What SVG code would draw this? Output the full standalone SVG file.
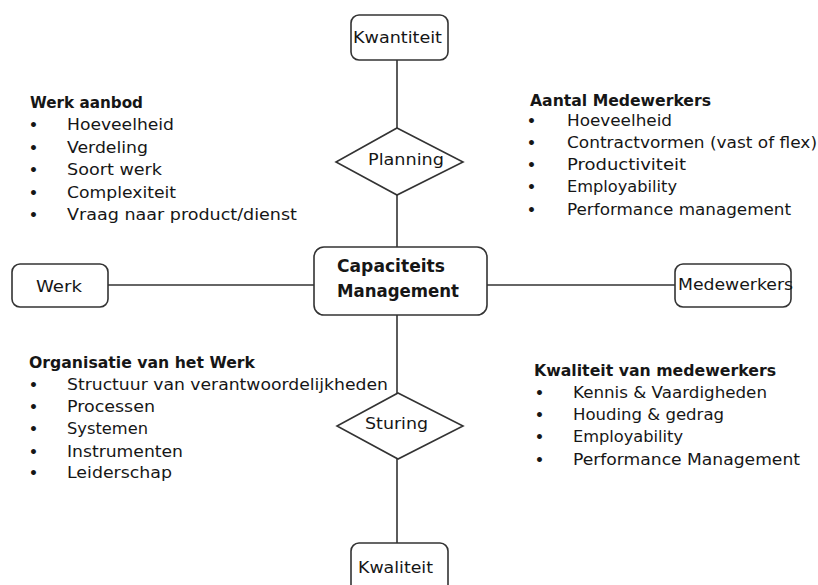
<svg xmlns="http://www.w3.org/2000/svg" width="818" height="585" viewBox="0 0 818 585">
<style>
.box{fill:#fff;stroke:#333;stroke-width:1.6}
.ln{stroke:#333;stroke-width:1.6;fill:none}
text{font-family:"DejaVu Sans","Open Sans",sans-serif;fill:#161616;font-size:16px}
.h{font-weight:bold;font-size:15px}
.n{font-size:16px}
.big{font-size:18px;font-weight:bold}
.b{font-weight:bold;font-size:14px}
</style>
<rect width="818" height="585" fill="#fff"/>
<g id="connectors">
<line class="ln" x1="397" y1="60" x2="397" y2="128"/>
<line class="ln" x1="397" y1="195" x2="397" y2="247"/>
<line class="ln" x1="397" y1="315" x2="397" y2="393"/>
<line class="ln" x1="397" y1="459" x2="397" y2="543"/>
<line class="ln" x1="108" y1="285" x2="314" y2="285"/>
<line class="ln" x1="487" y1="285" x2="675" y2="285"/>
</g>
<g id="kwantiteit">
<rect class="box" x="351" y="15" width="97" height="45" rx="8"/>
<text class="n" x="353" y="43" textLength="89" lengthAdjust="spacingAndGlyphs">Kwantiteit</text>
</g>
<g id="planning">
<polygon class="box" points="397,128 463,162 397,195 336,162"/>
<text class="n" x="368" y="165" textLength="76" lengthAdjust="spacingAndGlyphs">Planning</text>
</g>
<g id="capaciteits">
<rect class="box" x="314" y="247" width="173" height="68" rx="10"/>
<text class="big" x="337" y="272" textLength="108" lengthAdjust="spacingAndGlyphs">Capaciteits</text>
<text class="big" x="337" y="297" textLength="122" lengthAdjust="spacingAndGlyphs">Management</text>
</g>
<g id="werk">
<rect class="box" x="12" y="264" width="96" height="43" rx="8"/>
<text class="n" x="36" y="292" textLength="46" lengthAdjust="spacingAndGlyphs">Werk</text>
</g>
<g id="medewerkers">
<rect class="box" x="675" y="264" width="116" height="43" rx="8"/>
<text class="n" x="678" y="290" textLength="115" lengthAdjust="spacingAndGlyphs">Medewerkers</text>
</g>
<g id="sturing">
<polygon class="box" points="398,393 463,426 398,459 337,426"/>
<text class="n" x="365" y="429" textLength="63" lengthAdjust="spacingAndGlyphs">Sturing</text>
</g>
<g id="kwaliteit">
<rect class="box" x="351" y="543" width="97" height="52" rx="8"/>
<text class="n" x="358" y="573" textLength="75" lengthAdjust="spacingAndGlyphs">Kwaliteit</text>
</g>
<g id="werk-aanbod">
<text class="h" x="30" y="108" textLength="113" lengthAdjust="spacingAndGlyphs">Werk aanbod</text>
<text class="b" x="29" y="130">•</text><text x="67" y="130" textLength="107" lengthAdjust="spacingAndGlyphs">Hoeveelheid</text>
<text class="b" x="29" y="153">•</text><text x="67" y="153" textLength="81" lengthAdjust="spacingAndGlyphs">Verdeling</text>
<text class="b" x="29" y="175">•</text><text x="67" y="175" textLength="95" lengthAdjust="spacingAndGlyphs">Soort werk</text>
<text class="b" x="29" y="198">•</text><text x="67" y="198" textLength="109" lengthAdjust="spacingAndGlyphs">Complexiteit</text>
<text class="b" x="29" y="220">•</text><text x="67" y="220" textLength="230" lengthAdjust="spacingAndGlyphs">Vraag naar product/dienst</text>
</g>
<g id="aantal-medewerkers">
<text class="h" x="530" y="106" textLength="181" lengthAdjust="spacingAndGlyphs">Aantal Medewerkers</text>
<text class="b" x="527" y="126">•</text><text x="567" y="126" textLength="105" lengthAdjust="spacingAndGlyphs">Hoeveelheid</text>
<text class="b" x="527" y="148">•</text><text x="567" y="148" textLength="250" lengthAdjust="spacingAndGlyphs">Contractvormen (vast of flex)</text>
<text class="b" x="527" y="170">•</text><text x="567" y="170" textLength="119" lengthAdjust="spacingAndGlyphs">Productiviteit</text>
<text class="b" x="527" y="192">•</text><text x="567" y="192" textLength="110" lengthAdjust="spacingAndGlyphs">Employability</text>
<text class="b" x="527" y="215">•</text><text x="567" y="215" textLength="224" lengthAdjust="spacingAndGlyphs">Performance management</text>
</g>
<g id="organisatie">
<text class="h" x="29" y="368" textLength="226" lengthAdjust="spacingAndGlyphs">Organisatie van het Werk</text>
<text class="b" x="29" y="390">•</text><text x="67" y="390" textLength="321" lengthAdjust="spacingAndGlyphs">Structuur van verantwoordelijkheden</text>
<text class="b" x="29" y="412">•</text><text x="67" y="412" textLength="88" lengthAdjust="spacingAndGlyphs">Processen</text>
<text class="b" x="29" y="434">•</text><text x="67" y="434" textLength="81" lengthAdjust="spacingAndGlyphs">Systemen</text>
<text class="b" x="29" y="457">•</text><text x="67" y="457" textLength="116" lengthAdjust="spacingAndGlyphs">Instrumenten</text>
<text class="b" x="29" y="478">•</text><text x="67" y="478" textLength="105" lengthAdjust="spacingAndGlyphs">Leiderschap</text>
</g>
<g id="kwaliteit-medewerkers">
<text class="h" x="534" y="376" textLength="242" lengthAdjust="spacingAndGlyphs">Kwaliteit van medewerkers</text>
<text class="b" x="535" y="398">•</text><text x="573" y="398" textLength="194" lengthAdjust="spacingAndGlyphs">Kennis &amp; Vaardigheden</text>
<text class="b" x="535" y="420">•</text><text x="573" y="420" textLength="151" lengthAdjust="spacingAndGlyphs">Houding &amp; gedrag</text>
<text class="b" x="535" y="442">•</text><text x="573" y="442" textLength="110" lengthAdjust="spacingAndGlyphs">Employability</text>
<text class="b" x="535" y="465">•</text><text x="573" y="465" textLength="227" lengthAdjust="spacingAndGlyphs">Performance Management</text>
</g>
</svg>
